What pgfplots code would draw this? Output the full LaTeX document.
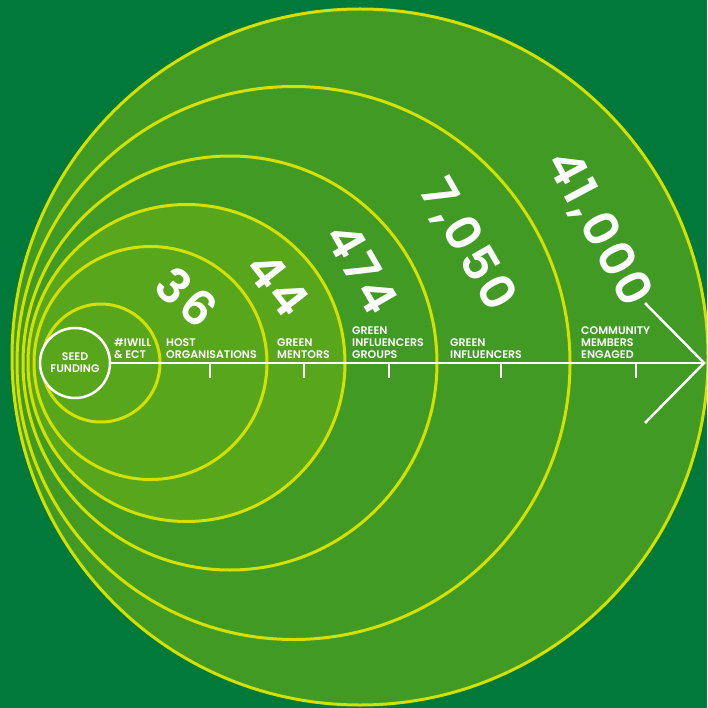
\documentclass[border=0pt]{standalone}
\usepackage{fontspec}
\setmainfont{Poppins}[BoldFont={Poppins SemiBold}]
\newfontfamily\numfont{Poppins SemiBold}[LetterSpace=6]
\usepackage{pgfplots}
\pgfplotsset{compat=1.18}
\definecolor{bg}{RGB}{0,121,58}
\definecolor{darkf}{RGB}{64,154,36}
\definecolor{lightf}{RGB}{88,166,28}
\definecolor{yel}{RGB}{212,224,0}
\newcommand\lab[3]{\node[anchor=base west,inner sep=0pt,text=white,font=\bfseries\fontsize{11}{12}\selectfont] at (axis cs:#1,#2) {#3};}
\newcommand\num[4]{\node[rotate=#3,inner sep=0pt,text=white,font=\numfont\fontsize{48}{48}\selectfont] at (axis cs:#1,#2) {#4};}
\begin{document}
\begin{tikzpicture}
\clip (0,0) rectangle (707pt,708pt);
\begin{axis}[at={(0,0)}, anchor=south west, width=707pt, height=708pt, scale only axis,
  xmin=0, xmax=707, ymin=0, ymax=708, y dir=reverse, hide axis, clip=false]
\fill[bg] (axis cs:0,0) rectangle (axis cs:707,708);
\draw[yel, line width=3pt, fill=darkf] (axis cs:360,357) circle[radius=348];
\draw[yel, line width=3pt, fill=darkf] (axis cs:293.5,363) circle[radius=276.5];
\draw[yel, line width=3pt, fill=darkf] (axis cs:230,363) circle[radius=207];
\draw[yel, line width=3pt, fill=lightf] (axis cs:186.5,363) circle[radius=158.5];
\draw[yel, line width=3pt, fill=lightf] (axis cs:150.5,363) circle[radius=116.5];
\draw[yel, line width=3pt, fill=lightf] (axis cs:101,363) circle[radius=59];
\draw[white, line width=2.5pt, fill=lightf] (axis cs:75,363) circle[radius=35];
% axis line and arrow
\addplot[white, line width=2.5pt] coordinates {(110,363) (705,363)};
\addplot[white, line width=2.5pt] coordinates {(645,303) (704,363) (645,423)};
% ticks
\addplot[white, line width=2pt] coordinates {(210,363) (210,378)};
\addplot[white, line width=2pt] coordinates {(304,363) (304,378)};
\addplot[white, line width=2pt] coordinates {(389,363) (389,378)};
\addplot[white, line width=2pt] coordinates {(501,363) (501,378)};
\addplot[white, line width=2pt] coordinates {(636,363) (636,378)};
% labels
\node[inner sep=0pt,text=white,font=\bfseries\fontsize{11}{12}\selectfont,align=center] at (axis cs:75,363) {SEED\\FUNDING};
\lab{114}{346.5}{\#IWILL}
\lab{114}{358.5}{\& ECT}
\lab{166}{346.5}{HOST}
\lab{166}{358.5}{ORGANISATIONS}
\lab{277}{346.5}{GREEN}
\lab{277}{358.5}{MENTORS}
\lab{352}{334.5}{GREEN}
\lab{352}{346.5}{INFLUENCERS}
\lab{352}{358.5}{GROUPS}
\lab{450}{346.5}{GREEN}
\lab{450}{358.5}{INFLUENCERS}
\lab{581}{334.5}{COMMUNITY}
\lab{581}{346.5}{MEMBERS}
\lab{581}{358.5}{ENGAGED}
% numbers
\num{187}{297}{-42}{36}
\num{278}{284}{-52}{44}
\num{362}{268}{-60}{474}
\num{467}{245}{-60}{7,050}
\num{598}{229}{-62}{41,000}
\end{axis}
\end{tikzpicture}
\end{document}
